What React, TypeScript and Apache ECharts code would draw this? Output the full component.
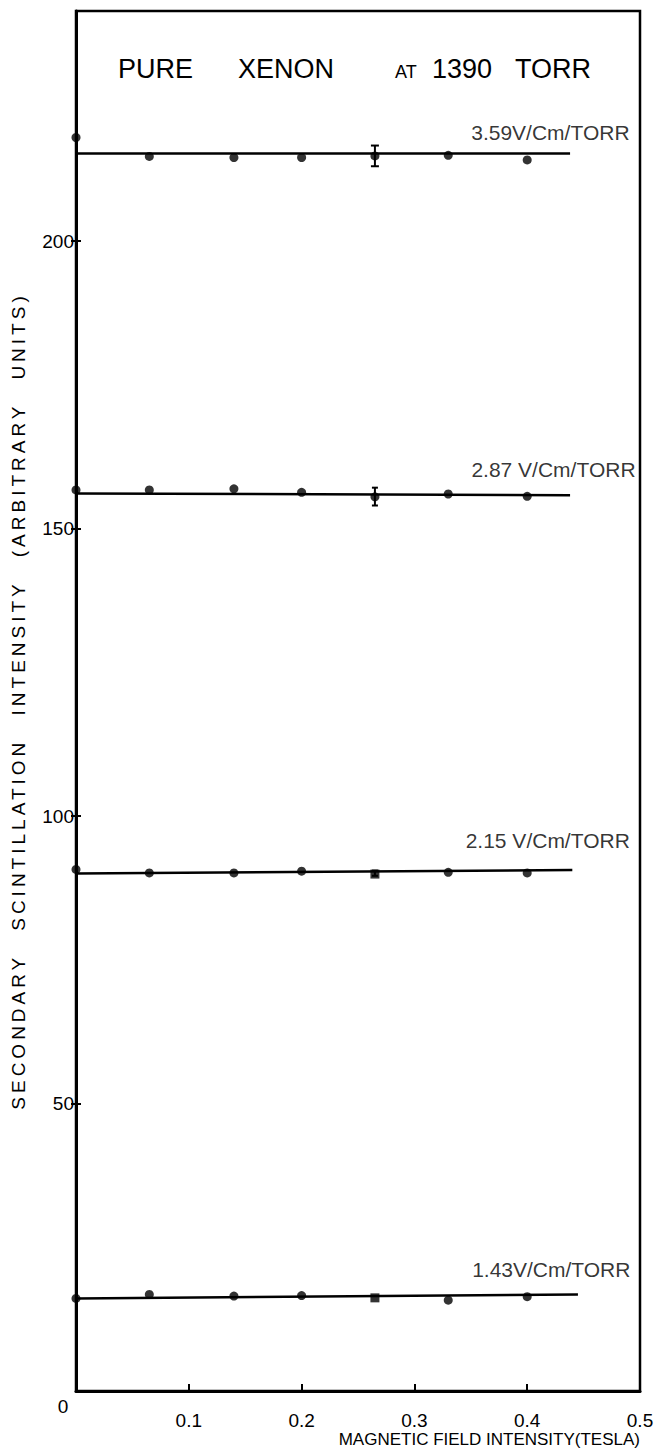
import React, { useEffect, useRef } from "react";
import * as echarts from "echarts";

const FONT = "'Liberation Sans', Arial, sans-serif";

// Magnetic field (tesla) of the measured points
const fieldTesla = [0, 0.065, 0.14, 0.2, 0.265, 0.33, 0.4];
// Secondary scintillation intensity for each reduced field
const intensity359 = [218.0, 214.7, 214.5, 214.5, 214.8, 214.9, 214.1];
const intensity287 = [156.7, 156.7, 156.9, 156.3, 155.5, 156.0, 155.6];
const intensity215 = [90.7, 90.1, 90.1, 90.4, 89.9, 90.2, 90.1];
const intensity143 = [16.1, 16.8, 16.5, 16.6, 16.2, 15.8, 16.4];

// Fitted straight lines (start at 0 T, end at fitEndTesla)
const fitEndTesla = [0.438, 0.438, 0.44, 0.445];
const fitStart = [215.2, 156.1, 90.0, 16.1];
const fitEnd = [215.2, 155.8, 90.6, 16.8];

// Error bars at 0.265 T
const errorTesla = 0.265;
const errorLow = [213.0, 154.0, 89.6];
const errorHigh = [216.6, 157.1, 90.5];

// Points drawn as squares
const squareAt = [null, null, 0.265, 0.265];

const fieldLabels = ["3.59V/Cm/TORR", "2.87 V/Cm/TORR", "2.15 V/Cm/TORR", "1.43V/Cm/TORR"];
const xTickValues = [0.1, 0.2, 0.3, 0.4, 0.5];
const yTickValues = [0, 50, 100, 150, 200];
const yLabelValues = [50, 100, 150, 200];
const zeroLabel = "0";
const xTitle = "MAGNETIC FIELD INTENSITY(TESLA)";
const yTitle = "SECONDARY SCINTILLATION INTENSITY (ARBITRARY UNITS)";

const pointSets = [intensity359, intensity287, intensity215, intensity143];
const labelOffsets = [
  [60, -21],
  [66, -26],
  [58, -30],
  [53, -25],
];
const capHalf = [4, 3, 3];

export default function App() {
  const ref = useRef<HTMLDivElement>(null);

  useEffect(() => {
    const el = ref.current!;
    const chart = echarts.init(el, null, { renderer: "svg" });

    const series: any[] = [];
    pointSets.forEach((vals, s) => {
      series.push({
        type: "line",
        data: [
          [0, fitStart[s]],
          [fitEndTesla[s], fitEnd[s]],
        ],
        showSymbol: false,
        symbol: "none",
        lineStyle: { color: "#000", width: 2.5 },
        silent: true,
        z: 2,
      });
      series.push({
        type: "scatter",
        data: fieldTesla.map((x, i) =>
          x === squareAt[s]
            ? { value: [x, vals[i]], symbol: "rect", symbolSize: [9, 9] }
            : [x, vals[i]]
        ),
        symbol: "circle",
        symbolSize: 9,
        itemStyle: { color: "#000" },
        silent: true,
        z: 3,
      });
      series.push({
        type: "scatter",
        data: [[fitEndTesla[s], fitEnd[s]]],
        symbolSize: 1,
        itemStyle: { color: "rgba(0,0,0,0)" },
        silent: true,
        label: {
          show: true,
          position: "left",
          distance: 0,
          offset: labelOffsets[s],
          formatter: fieldLabels[s],
          color: "#000",
          fontFamily: FONT,
          fontSize: 21,
        },
        z: 4,
      });
    });

    series.push({
      type: "custom",
      data: errorLow.map((lo, i) => [errorTesla, lo, errorHigh[i], i]),
      encode: { x: 0, y: [1, 2] },
      silent: true,
      z: 5,
      renderItem: (params: any, api: any) => {
        const x = api.value(0);
        const lo = api.coord([x, api.value(1)]);
        const hi = api.coord([x, api.value(2)]);
        const c = capHalf[api.value(3)];
        const st = { stroke: "#000", lineWidth: 2 };
        return {
          type: "group",
          children: [
            { type: "line", shape: { x1: lo[0], y1: lo[1], x2: hi[0], y2: hi[1] }, style: st },
            { type: "line", shape: { x1: lo[0] - c, y1: lo[1], x2: lo[0] + c, y2: lo[1] }, style: st },
            { type: "line", shape: { x1: hi[0] - c, y1: hi[1], x2: hi[0] + c, y2: hi[1] }, style: st },
          ],
        };
      },
    });

    const yBase = {
      type: "value",
      min: 0,
      max: 240,
      interval: 50,
      position: "left",
      splitLine: { show: false },
    };

    const big = { fontFamily: FONT, fontSize: 27, fontWeight: "normal", color: "#000", verticalAlign: "bottom" };

    chart.setOption({
      animation: false,
      backgroundColor: "#fff",
      title: {
        text: "{p|PURE}{x|XENON}{a|AT}{n|1390}{t|TORR}",
        left: 113,
        top: 50,
        textStyle: {
          fontWeight: "normal",
          rich: {
            p: { ...big, width: 120 },
            x: { ...big, width: 157 },
            a: { ...big, fontSize: 18, width: 37, padding: [0, 0, 1, 0] },
            n: { ...big, width: 83 },
            t: { ...big },
          },
        },
      },
      grid: {
        left: 76,
        right: 17,
        top: 11,
        bottom: 56,
        show: true,
        borderColor: "#000",
        borderWidth: 2.5,
        backgroundColor: "transparent",
      },
      xAxis: {
        type: "value",
        min: 0,
        max: 0.5,
        interval: 0.1,
        splitLine: { show: false },
        axisLine: { show: true, lineStyle: { color: "#000", width: 3 } },
        axisTick: { show: true, inside: true, length: 7, lineStyle: { color: "#000", width: 2 } },
        axisLabel: {
          customValues: xTickValues,
          formatter: (v: number) => v.toFixed(1),
          color: "#000",
          fontFamily: FONT,
          fontSize: 19,
          margin: 20,
        },
        name: xTitle,
        nameLocation: "end",
        nameGap: 0,
        nameTextStyle: {
          color: "#000",
          fontFamily: FONT,
          fontSize: 17,
          align: "right",
          verticalAlign: "top",
          padding: [40, 0, 0, 0],
        },
      },
      yAxis: [
        {
          ...yBase,
          axisLine: { show: true, lineStyle: { color: "#000", width: 3 } },
          axisTick: { show: true, inside: true, length: 5, customValues: yTickValues, lineStyle: { color: "#000", width: 2 } },
          axisLabel: {
            customValues: yLabelValues,
            color: "#000",
            fontFamily: FONT,
            fontSize: 19,
            margin: 2,
          },
          name: yTitle,
          nameLocation: "middle",
          nameGap: 48,
          nameRotate: 90,
          nameTextStyle: { color: "#000", fontFamily: FONT, fontSize: 19 },
        },
        {
          ...yBase,
          axisLine: { show: false },
          axisTick: { show: true, inside: false, length: 5, customValues: yLabelValues, lineStyle: { color: "#000", width: 2 } },
          axisLabel: { show: false },
        },
      ],
      graphic: [
        {
          type: "text",
          x: 63,
          y: 1406,
          silent: true,
          style: {
            text: zeroLabel,
            fill: "#000",
            font: `19px ${FONT}`,
            align: "center",
            verticalAlign: "middle",
            textAlign: "center",
            textVerticalAlign: "middle",
          },
        },
      ],
      series,
    });

    const spaceTitle = () => {
      const texts = Array.from(el.querySelectorAll("text")) as SVGTextElement[];
      texts.forEach((t) => {
        if (t.textContent === yTitle) {
          t.style.letterSpacing = "4px";
          t.style.wordSpacing = "14px";
        }
      });
    };
    spaceTitle();
    chart.on("finished", spaceTitle);

    return () => {
      chart.dispose();
    };
  }, []);

  return (
    <div
      ref={ref}
      style={{ position: "absolute", left: 0, top: 0, width: 657, height: 1448, background: "#fff" }}
    />
  );
}
